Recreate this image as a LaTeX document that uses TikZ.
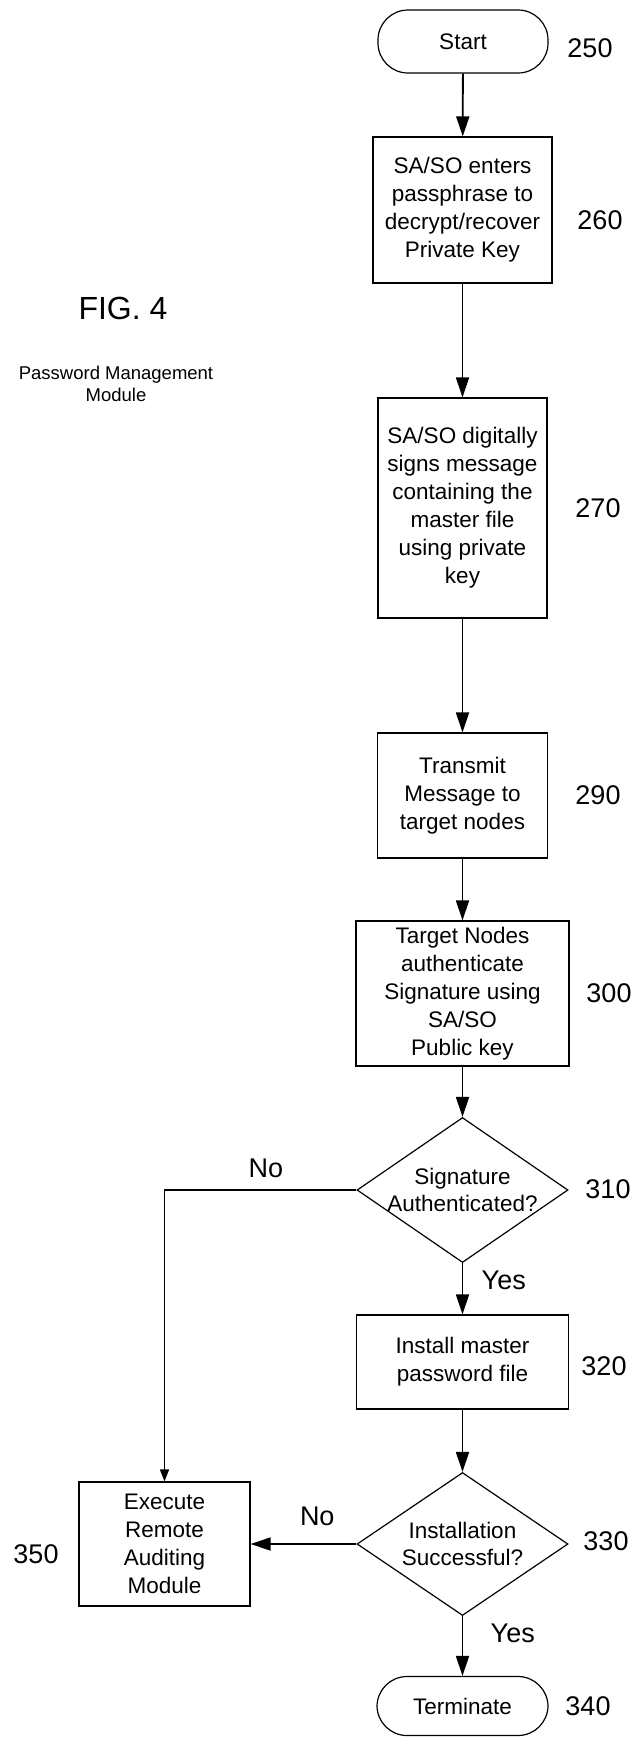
\documentclass[tikz,border=0pt]{standalone}
\usepackage{fontspec}
\setmainfont{Liberation Sans}
\usetikzlibrary{arrows.meta,shapes.geometric}
\tikzset{
  stepbox/.style={draw, line width=1.2pt, align=center, inner sep=0pt, font=\fontsize{22.5}{28}\selectfont},
  endbox/.style={stepbox, rounded corners=30pt},
  testbox/.style={draw, diamond, aspect=1.455, line width=1.2pt, align=center, inner sep=-8pt, font=\fontsize{22.5}{27.6}\selectfont},
  refnum/.style={font=\fontsize{27}{30}\selectfont},
  flow/.style={line width=1.8pt, -{Triangle[length=20pt,width=13pt]}},
  flowthin/.style={line width=1.2pt, -{Triangle[length=12pt,width=9pt]}}
}
\begin{document}
\begin{tikzpicture}[x=1pt,y=-1pt]
\useasboundingbox (0,0) rectangle (634,1738);

\node[endbox, minimum width=170pt, minimum height=63pt] (start) at (463,41.5) {Start};
\node[stepbox, minimum width=179pt, minimum height=146pt] (enter) at (462.5,210) {SA/SO enters\\passphrase to\\decrypt/recover\\Private Key};
\node[stepbox, minimum width=169pt, minimum height=220pt] (sign) at (462.5,508) {SA/SO digitally\\signs message\\containing the\\master file\\using private\\key};
\node[stepbox, minimum width=170pt, minimum height=125pt] (send) at (462.5,795.5) {Transmit\\Message to\\target nodes};
\node[stepbox, minimum width=213pt, minimum height=145pt] (auth) at (462.5,993.5) {Target Nodes\\authenticate\\Signature using\\SA/SO\\Public key};
\node[testbox, minimum width=211pt, minimum height=145pt] (sigok) at (462.5,1190) {Signature\\Authenticated?};
\node[stepbox, minimum width=212pt, minimum height=94pt] (install) at (462.5,1362) {Install master\\password file};
\node[testbox, minimum width=211pt, minimum height=143pt] (instok) at (462.5,1544) {Installation\\Successful?};
\node[stepbox, minimum width=171pt, minimum height=124pt] (audit) at (164.5,1544) {Execute\\Remote\\Auditing\\Module};
\node[endbox, minimum width=171pt, minimum height=59pt] (term) at (462.5,1706) {Terminate};

\node[refnum] (n250) at (590,48) {250};
\node[refnum] (n260) at (600,220) {260};
\node[refnum] (n270) at (598,508) {270};
\node[refnum] (n290) at (598,795) {290};
\node[refnum] (n300) at (609,993) {300};
\node[refnum] (n310) at (608,1189) {310};
\node[refnum] (n320) at (604,1366) {320};
\node[refnum] (n330) at (606,1541) {330};
\node[refnum] (n340) at (588,1706) {340};
\node[refnum] (n350) at (36,1554) {350};

\node[font=\fontsize{32}{36}\selectfont] (fig) at (123,308) {FIG. 4};
\node[align=center, font=\fontsize{18.5}{22}\selectfont] (title) at (116,384) {Password Management\\Module};

\draw[flow] (start) -- (enter);
\draw[flow] (enter) -- (sign);
\draw[flow] (sign) -- (send);
\draw[flow] (send) -- (auth);
\draw[flow] (auth) -- (sigok);
\draw[flow] (sigok) -- (install) node [pos=0.33, right=15pt, refnum] (yes1) {Yes};
\draw[flow] (install) -- (instok);
\draw[flow] (instok) -- (term) node [pos=0.29, right=24pt, refnum] (yes2) {Yes};
\draw[flowthin] (sigok.west) -| (audit.north) node [pos=0.236, above=8pt, refnum] (no1) {No};
\draw[flow] (instok.west) -- (audit.east) node [pos=0.37, above=14pt, refnum] (no2) {No};

\end{tikzpicture}
\end{document}
